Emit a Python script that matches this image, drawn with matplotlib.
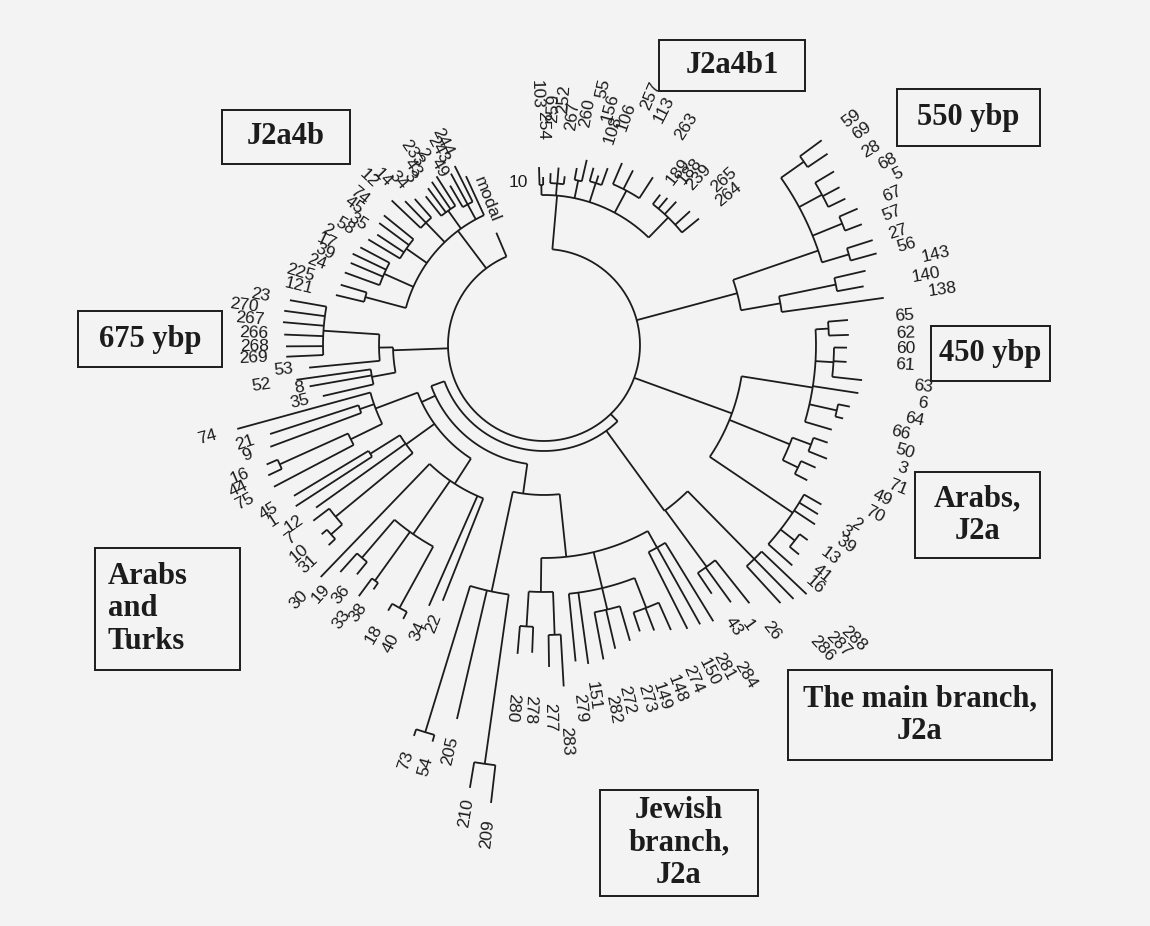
"""Circular dendrogram of J2a haplotypes with clade annotation boxes."""
import numpy as np
import matplotlib.pyplot as plt
from matplotlib.patches import Rectangle

W, H = 1150, 926
BG = "#f3f3f3"
INK = "#1c1c1c"


def L(name, a, tip, lab, la=None, rot=None):
    """Leaf: label, angle (deg), tip radius, label radius, optional label angle / rotation."""
    return ("leaf", name, a, tip, lab, la, rot)


def N(r, *kids, a=None):
    """Internal node at radius r; a = angle where the parent stem attaches."""
    return ("node", r, a, kids)


# ---- clades (angles in degrees, unwrapped to run 100..455 counter-clockwise) ----
J2A4B1 = N(150,
           N(160, L("103", 451.6, 178, 236), L("254", 450.3, 168, 205)),
           N(162, L("259", 447.8, 172, 222), L("252", 445.3, 178, 232), L("267", 443.0, 170, 216)),
           N(168, L("260", 439.5, 180, 222), L("55", 437.0, 190, 254)),
           N(170, L("156", 434.4, 184, 232), L("108", 432.2, 178, 212), L("106", 430.2, 188, 228)),
           N(175, L("257", 426.8, 198, 256), L("113", 423.0, 196, 250), L("263", 417.0, 200, 246)),
           N(178, L("189", 412.3, 190, 204), L("188", 410.0, 192, 212), L("239", 407.3, 195, 214),
             L("265", 402.5, 198, 230), L("264", 399.2, 200, 224)),
           a=445)

C550 = N(290,
         N(318, L("59", 396.4, 345, 372), L("69", 394.0, 342, 374)),
         N(316, L("28", 390.9, 338, 372), L("68", 388.1, 335, 380), L("5", 385.9, 335, 388)),
         N(322, L("67", 383.5, 342, 370), L("57", 380.8, 340, 362)),
         N(318, L("27", 377.7, 345, 362), L("56", 375.4, 345, 366)),
         a=379)
C143 = N(240, N(298, L("143", 373.0, 330, 388), L("140", 370.4, 325, 374)),
         L("138", 367.9, 343, 388), a=370)
RTOP = N(200, C143, C550, a=375)

C450 = N(272,
         N(285, L("65", 364.7, 305, 352), L("62", 361.9, 305, 352)),
         N(290, L("60", 359.5, 303, 352), L("61", 356.8, 303, 352), L("63", 353.7, 320, 372)),
         L("6", 351.3, 318, 378),
         N(300, L("64", 348.6, 312, 368), L("66", 346.2, 308, 358)),
         L("50", 343.6, 300, 366),
         a=351)
ARJ1 = N(265, N(285, L("3", 341.0, 300, 374), L("71", 338.1, 305, 372)),
         N(282, L("49", 335.7, 298, 362), L("70", 332.8, 296, 362)), a=338)
ARJ2 = N(300, L("2", 330.1, 320, 356), L("3", 328.3, 322, 350), L("39", 326.5, 325, 352),
         N(318, L("13", 323.5, 328, 346), L("41", 320.6, 330, 350)),
         L("16", 318.4, 332, 352), a=326)
RMID = N(200, C450, ARJ1, ARJ2, a=340)

MAIN = N(205,
         N(300, L("288", 316.5, 362, 412), L("287", 314.5, 356, 405), L("286", 312.5, 350, 398)),
         N(275, L("26", 308.5, 330, 356), L("1", 306.0, 318, 342), L("43", 304.0, 300, 330)),
         a=306)

JEW = N(213,
        N(247, N(282, L("280", 265.1, 310, 350), L("278", 267.8, 308, 350)),
          N(290, L("277", 270.9, 322, 358), L("283", 273.3, 342, 382))),
        N(250, L("279", 275.7, 318, 350), L("151", 277.9, 322, 340),
          N(272, L("282", 280.7, 320, 356), L("272", 283.2, 312, 350), L("273", 286.2, 308, 354)),
          N(282, L("149", 288.5, 302, 356), L("148", 291.1, 306, 354), L("274", 294.0, 312, 352))),
        N(232, L("150", 296.8, 318, 352), L("281", 299.2, 320, 354), L("284", 301.5, 324, 372)),
        a=276)

LONG = N(252,
         N(405, L("73", 251.6, 412, 428), L("54", 254.3, 412, 428)),
         L("205", 256.9, 384, 402),
         N(423, L("210", 260.5, 449, 460), L("209", 263.4, 461, 478)),
         a=258)

AT = N(135,
       N(180, L("74", 195.3, 318, 340),
         N(195, L("21", 198.0, 288, 305), L("9", 200.4, 292, 312)),
         N(215, N(290, L("16", 203.3, 302, 322), L("44", 205.3, 305, 328)), L("75", 207.7, 305, 328))),
       N(170, N(205, L("45", 211.1, 292, 312), L("1", 213.0, 296, 318)),
         L("12", 215.5, 280, 298),
         N(270, L("7", 217.3, 290, 314), N(285, L("10", 220.4, 292, 312), L("31", 222.9, 294, 312)))),
       N(165, L("30", 226.1, 322, 344),
         N(230, N(280, L("19", 228.1, 305, 324), L("36", 230.8, 296, 312)),
           N(290, L("33", 233.6, 312, 332), L("38", 235.1, 298, 316)),
           N(300, L("18", 239.6, 308, 326), L("40", 242.8, 308, 326))),
         L("34", 246.2, 285, 303), L("22", 248.4, 275, 290)),
       a=205)

C675 = N(151,
         N(165, N(221, L("23", 170.0, 258, 278), L("270", 172.5, 262, 288), L("267", 175.0, 262, 281),
                  L("266", 177.7, 260, 276), L("268", 180.3, 258, 275), L("269", 182.6, 258, 276)),
           L("53", 185.5, 236, 252)),
         N(175, L("52", 188.0, 250, 276), L("8", 190.0, 238, 244), L("35", 193.0, 227, 241)),
         a=182)

J2A4B = N(143,
          L("modal", 114.8, 186, 133, la=111.6),
          N(160, L("244", 116.5, 200, 212), L("243", 118.5, 195, 208), L("49", 120.5, 185, 196)),
          N(165, L("2", 122.5, 200, 222), L("233", 124.5, 198, 218), L("43", 126.5, 195, 210),
            L("3", 128.5, 190, 210)),
          N(170, L("34", 131.5, 195, 210), L("14", 134.0, 200, 222), L("12", 136.5, 210, 232)),
          N(168, L("74", 141.0, 206, 228), L("45", 143.5, 205, 226), L("35", 146.5, 200, 214),
            L("58", 149.0, 205, 222)),
          N(175, L("2", 152.0, 208, 240), L("17", 154.5, 212, 232), L("39", 157.0, 210, 228),
            L("24", 160.0, 212, 232)),
          N(185, L("225", 163.5, 212, 240), L("121", 166.5, 214, 238)),
          a=127)

L3 = N(150, LONG, JEW, a=262)
L2 = N(120, AT, L3, a=200)
LOWER = N(106, L2, MAIN, a=314)
ROOT = N(96, L("10", 113.0, 122, 165, la=99, rot=0), J2A4B, C675, LOWER, RMID, RTOP, J2A4B1)

# ---- annotation boxes ----
BOX_TEXTS = ["J2a4b1", "550 ybp", "J2a4b", "675 ybp", "450 ybp", "Arabs,\nJ2a",
             "The main branch,\nJ2a", "Jewish\nbranch,\nJ2a", "Arabs\nand\nTurks"]
BOX_EDGES = [(659, 40, 805, 91), (897, 89, 1040, 146), (222, 110, 350, 164), (78, 311, 222, 367),
             (931, 326, 1050, 381), (915, 472, 1040, 558), (788, 670, 1052, 760),
             (600, 790, 758, 896), (95, 548, 240, 670)]


def angle_of(node):
    if node[0] == "leaf":
        return node[2]
    if node[2] is not None:
        return node[2]
    angs = [angle_of(k) for k in node[3]]
    return (min(angs) + max(angs)) / 2


def radius_of(node):
    return node[3] if node[0] == "leaf" else node[1]


def put_label(ax, leaf):
    _, name, a, tip, lab, la, fixed_rot = leaf
    a_lab = la if la is not None else a
    d = a_lab % 360
    if 90 < d < 264.5:
        rot, ha = d - 180, "right"
    else:
        rot, ha = (d if d <= 90 else d - 360), "left"
    if fixed_rot is not None:
        rot, ha = fixed_rot, "center"
    ax.text(np.radians(a_lab), lab, name, rotation=rot, rotation_mode="anchor",
            ha=ha, va="center", fontsize=12.5, color=INK, family="Liberation Sans")


def draw(ax, node):
    if node[0] == "leaf":
        put_label(ax, node)
        return
    r, kids = node[1], node[3]
    angs = [angle_of(k) for k in kids] + [angle_of(node)]
    t = np.radians(np.linspace(min(angs), max(angs), 200))
    ax.plot(t, np.full_like(t, r), color=INK, lw=1.3, solid_capstyle="butt")
    for k in kids:
        ka = np.radians(angle_of(k))
        ax.plot([ka, ka], [r, radius_of(k)], color=INK, lw=1.3, solid_capstyle="butt")
        draw(ax, k)


def main():
    fig = plt.figure(figsize=(W / 100, H / 100), dpi=100, facecolor=BG)

    cx, cy, R = 544, 345, 520
    ax = fig.add_axes([(cx - R) / W, (H - cy - R) / H, 2 * R / W, 2 * R / H], projection="polar")
    ax.set_ylim(0, R)
    ax.set_facecolor("none")
    ax.axis("off")
    draw(ax, ROOT)

    ov = fig.add_axes([0, 0, 1, 1])
    ov.set_xlim(0, W)
    ov.set_ylim(H, 0)
    ov.axis("off")
    for text, (x0, y0, x1, y1) in zip(BOX_TEXTS, BOX_EDGES):
        ov.add_patch(Rectangle((x0, y0), x1 - x0, y1 - y0, fill=False, lw=1.4, ec=INK))
        if text.startswith("Arabs\nand"):
            ov.text(x0 + 13, (y0 + y1) / 2, text, ha="left", va="center", fontsize=22,
                    fontweight="bold", family="Liberation Serif", color=INK, linespacing=1.15)
        else:
            ov.text((x0 + x1) / 2, (y0 + y1) / 2, text, ha="center", va="center", fontsize=22,
                    fontweight="bold", family="Liberation Serif", color=INK, linespacing=1.15)

    fig.savefig("out.png", dpi=100, facecolor=BG)
    plt.close(fig)


if __name__ == "__main__":
    main()
